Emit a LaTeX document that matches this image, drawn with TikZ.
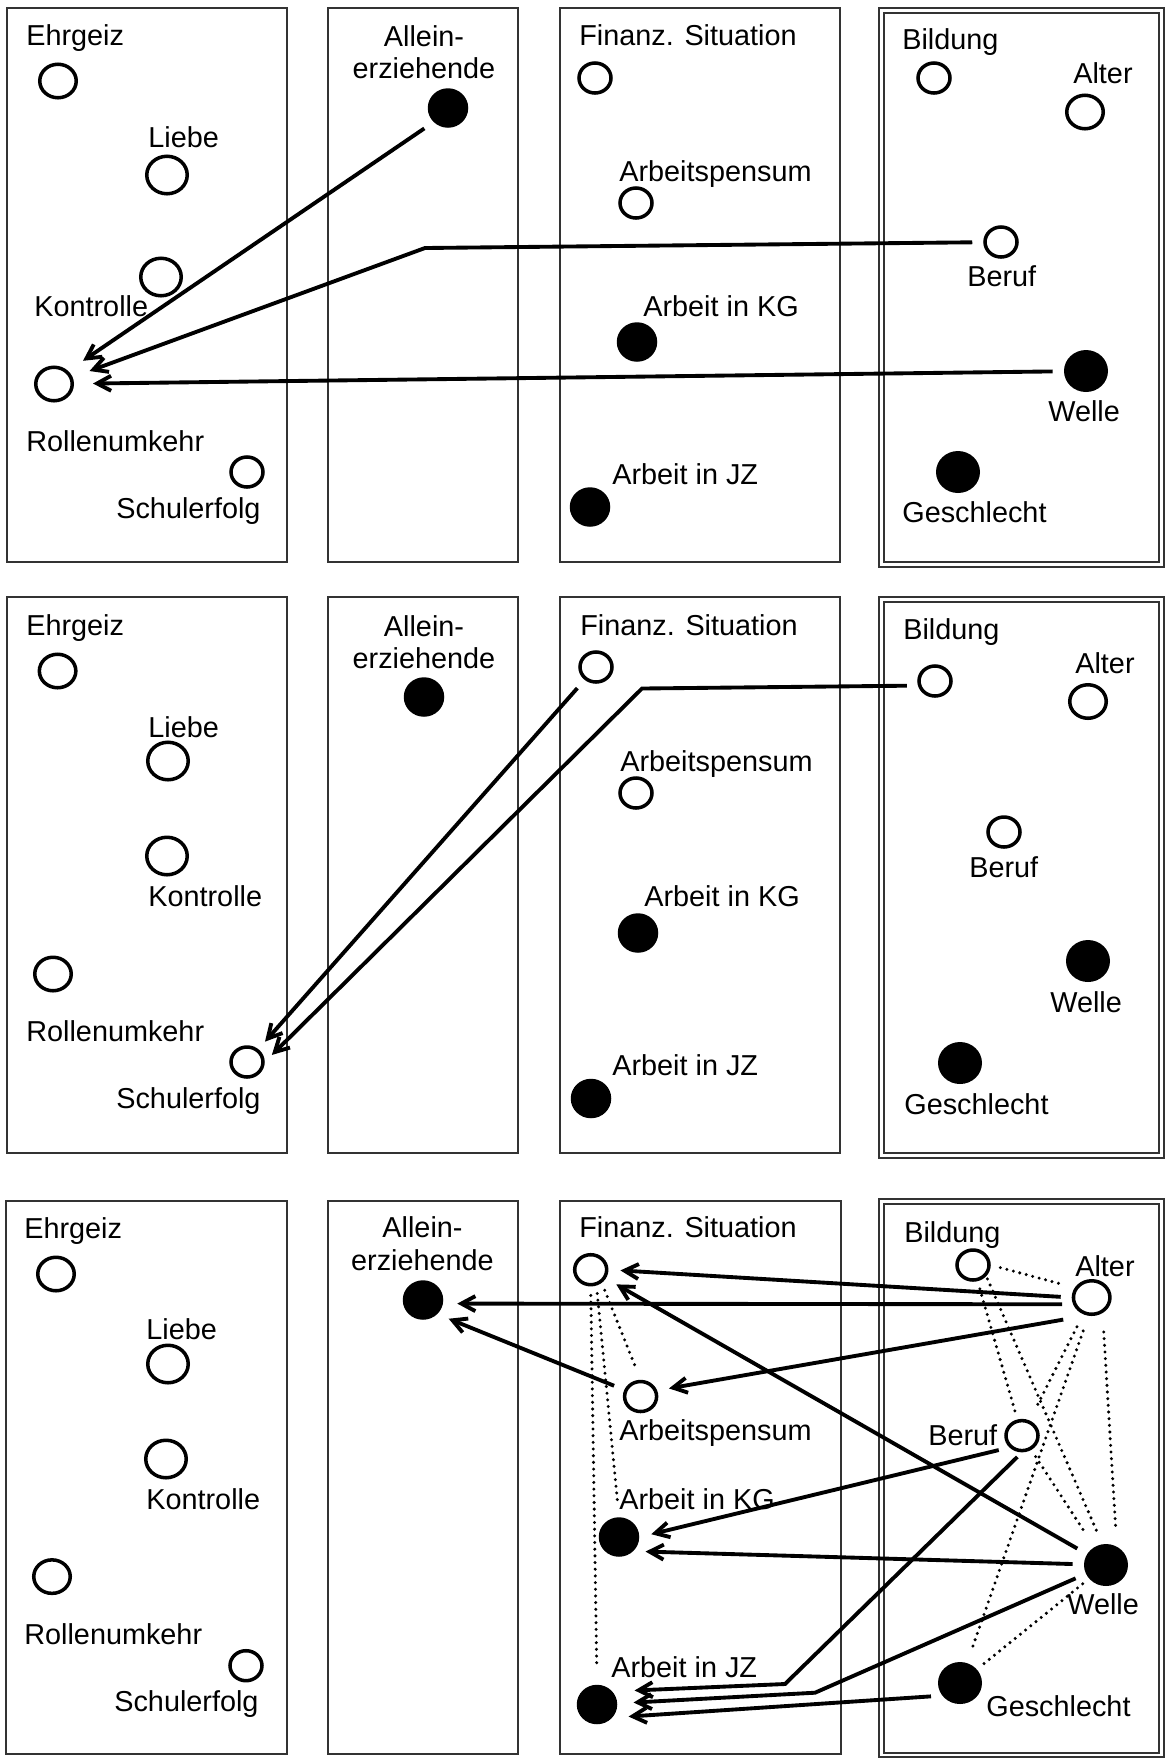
\documentclass[tikz,border=0pt]{standalone}
\usepackage{fontspec}
\setmainfont{Liberation Sans}
\usetikzlibrary{arrows.meta,shapes.geometric}
\definecolor{ink}{HTML}{000000}
\definecolor{frame}{HTML}{333333}
\tikzset{
  >={Straight Barb[length=2.8mm,width=3mm]},
  every node/.style={font=\fontsize{16.4}{18.4}\selectfont,text=ink},
  lbl/.style={anchor=base west,inner sep=0pt},
  twoline/.style={align=center,anchor=north,inner sep=0pt},
  opn/.style={ellipse,draw=ink,line width=2pt,fill=white,inner sep=0pt,minimum width=7.3mm,minimum height=6.7mm},
  opnS/.style={opn,minimum width=6.4mm,minimum height=6mm},
  opnL/.style={opn,minimum width=8.1mm,minimum height=7.5mm},
  fll/.style={ellipse,fill=ink,inner sep=0pt,minimum width=8.1mm,minimum height=7.9mm},
  fllL/.style={fll,minimum width=8.8mm,minimum height=8.4mm},
  frm/.style={draw=frame,line width=1pt},
  arrow/.style={->,line width=2.2pt,draw=ink,shorten <=2.2mm,shorten >=2.4mm},
  assoc/.style={line width=1.9pt,draw=ink,line cap=round,dash pattern=on 0pt off 3.8pt}
}
\begin{document}
\begin{tikzpicture}[x=0.2mm,y=-0.2mm]
  \useasboundingbox[fill=white] (0,0) rectangle (1166,1758);

  \draw[frm] (7,8) rectangle (287,562);
  \draw[frm] (328,8) rectangle (518,562);
  \draw[frm] (560,8) rectangle (840,562);
  \draw[frm] (879,8) rectangle (1164,567);
  \draw[frm] (884,13) rectangle (1159,562);

  \draw[frm] (7,597) rectangle (287,1153);
  \draw[frm] (328,597) rectangle (518,1153);
  \draw[frm] (560,597) rectangle (840,1153);
  \draw[frm] (879,597) rectangle (1164,1158);
  \draw[frm] (884,602) rectangle (1159,1153);

  \draw[frm] (6,1201) rectangle (287,1754);
  \draw[frm] (328,1201) rectangle (518,1754);
  \draw[frm] (560,1201) rectangle (841,1754);
  \draw[frm] (879,1199) rectangle (1164,1757);
  \draw[frm] (884,1204) rectangle (1159,1753);

  \node[opn] (ehrgeiz1) at (58,81) {};
  \node[lbl] (ehrgeiz1l) at (26,45) {Ehrgeiz};
  \node[opnL] (liebe1) at (167,175) {};
  \node[lbl] (liebe1l) at (148,147) {Liebe};
  \node[opnL] (kontrolle1) at (161,277) {};
  \node[lbl] (kontrolle1l) at (34,316) {Kontrolle};
  \node[opn] (rollen1) at (54,384) {};
  \node[lbl] (rollen1l) at (26,451) {Rollenumkehr};
  \node[opnS] (schul1) at (247,472) {};
  \node[lbl] (schul1l) at (116,518) {Schulerfolg};
  \node[twoline] (allein1l) at (424,25) {Allein-\\erziehende};
  \node[fll] (allein1) at (448,108) {};
  \node[lbl] (finanz1l) at (579,45) {Finanz. Situation};
  \node[opnS] (finanz1) at (595,78) {};
  \node[lbl] (arbeits1l) at (619,181) {Arbeitspensum};
  \node[opnS] (arbeits1) at (636,203) {};
  \node[lbl] (kg1l) at (643,316) {Arbeit in KG};
  \node[fll] (kg1) at (637,342) {};
  \node[lbl] (jz1l) at (612,484) {Arbeit in JZ};
  \node[fll] (jz1) at (590,507) {};
  \node[lbl] (bildung1l) at (902,49) {Bildung};
  \node[opnS] (bildung1) at (934,78) {};
  \node[lbl] (alter1l) at (1073,83) {Alter};
  \node[opn] (alter1) at (1085,112) {};
  \node[opnS] (beruf1) at (1001,242) {};
  \node[lbl] (beruf1l) at (967,286) {Beruf};
  \node[fllL] (welle1) at (1086,371) {};
  \node[lbl] (welle1l) at (1048,421) {Welle};
  \node[fllL] (geschl1) at (958,472) {};
  \node[lbl] (geschl1l) at (902,522) {Geschlecht};
  \coordinate (knick1) at (425,248);

  \draw[arrow,shorten >=3.6mm] (allein1.south west) -- (rollen1.north east);
  \draw[arrow,shorten >=3.6mm] (beruf1) -- (knick1) -- (rollen1.20);
  \draw[arrow,shorten >=3.8mm] (welle1) -- (rollen1);

  \node[opn] (ehrgeiz2) at (57.6,671) {};
  \node[lbl] (ehrgeiz2l) at (26,635) {Ehrgeiz};
  \node[opnL] (liebe2) at (168,761) {};
  \node[lbl] (liebe2l) at (148,737) {Liebe};
  \node[opnL] (kontrolle2) at (167,856) {};
  \node[lbl] (kontrolle2l) at (148,906) {Kontrolle};
  \node[opn] (rollen2) at (53,974) {};
  \node[lbl] (rollen2l) at (26,1041) {Rollenumkehr};
  \node[opnS] (schul2) at (247,1062) {};
  \node[lbl] (schul2l) at (116,1108.6) {Schulerfolg};
  \node[twoline] (allein2l) at (424,614.8) {Allein-\\erziehende};
  \node[fll] (allein2) at (424,697) {};
  \node[lbl] (finanz2l) at (580,635.4) {Finanz. Situation};
  \node[opnS] (finanz2) at (596,667) {};
  \node[lbl] (arbeits2l) at (620,771.4) {Arbeitspensum};
  \node[opnS] (arbeits2) at (636,793) {};
  \node[lbl] (kg2l) at (644,906) {Arbeit in KG};
  \node[fll] (kg2) at (638,933) {};
  \node[lbl] (jz2l) at (612,1075) {Arbeit in JZ};
  \node[fll] (jz2) at (591,1098.5) {};
  \node[lbl] (bildung2l) at (903,639.4) {Bildung};
  \node[opnS] (bildung2) at (935,681) {};
  \node[lbl] (alter2l) at (1075,673.6) {Alter};
  \node[opn] (alter2) at (1088,701.5) {};
  \node[opnS] (beruf2) at (1004,832) {};
  \node[lbl] (beruf2l) at (969,877) {Beruf};
  \node[fllL] (welle2) at (1088,961) {};
  \node[lbl] (welle2l) at (1050,1012) {Welle};
  \node[fllL] (geschl2) at (960,1063) {};
  \node[lbl] (geschl2l) at (904,1114) {Geschlecht};
  \coordinate (knick2) at (642,688.5);

  \draw[arrow,shorten >=2mm] (finanz2) -- (schul2);
  \draw[arrow,shorten >=2mm] (bildung2.195) -- (knick2) -- (schul2.east);

  \node[opn] (ehrgeiz3) at (56,1274) {};
  \node[lbl] (ehrgeiz3l) at (24,1238) {Ehrgeiz};
  \node[opnL] (liebe3) at (168,1364) {};
  \node[lbl] (liebe3l) at (146,1339) {Liebe};
  \node[opnL] (kontrolle3) at (166,1459) {};
  \node[lbl] (kontrolle3l) at (146,1509) {Kontrolle};
  \node[opn] (rollen3) at (52,1576.6) {};
  \node[lbl] (rollen3l) at (24,1644) {Rollenumkehr};
  \node[opnS] (schul3) at (246,1665.7) {};
  \node[lbl] (schul3l) at (114,1711) {Schulerfolg};
  \node[twoline] (allein3l) at (422.5,1216.5) {Allein-\\erziehende};
  \node[fll] (allein3) at (423,1300) {};
  \node[lbl] (finanz3l) at (579,1237) {Finanz. Situation};
  \node[opnS] (finanz3) at (590.7,1269.7) {};
  \node[lbl] (arbeits3l) at (619,1440) {Arbeitspensum};
  \node[opnS] (arbeits3) at (640.6,1396.5) {};
  \node[lbl] (kg3l) at (619,1509) {Arbeit in KG};
  \node[fll] (kg3) at (619,1537) {};
  \node[lbl] (jz3l) at (611,1677) {Arbeit in JZ};
  \node[fll] (jz3) at (597,1704.5) {};
  \node[lbl] (bildung3l) at (904,1242) {Bildung};
  \node[opnS] (bildung3) at (973,1265) {};
  \node[lbl] (alter3l) at (1075,1276) {Alter};
  \node[opn] (alter3) at (1091.7,1297.5) {};
  \node[opnS] (beruf3) at (1022,1435.6) {};
  \node[lbl] (beruf3l) at (928,1445) {Beruf};
  \node[fllL] (welle3) at (1106,1565) {};
  \node[lbl] (welle3l) at (1067,1614) {Welle};
  \node[fllL] (geschl3) at (960,1683) {};
  \node[lbl] (geschl3l) at (986,1716) {Geschlecht};
  \coordinate (knick3a) at (785,1684);
  \coordinate (knick3b) at (815,1692.7);

  \draw[assoc,shorten <=1.8mm,shorten >=3.8mm] (finanz3.south) -- (jz3.north);
  \draw[assoc,shorten <=1.6mm,shorten >=3.4mm] (finanz3.-70) -- (kg3.north);
  \draw[assoc,shorten <=1.6mm,shorten >=2.4mm] (finanz3.-50) -- (arbeits3.north);
  \draw[assoc,shorten <=2mm,shorten >=2.4mm] (bildung3.east) -- (alter3.150);
  \draw[assoc,shorten <=1.6mm,shorten >=1.6mm] (bildung3) -- (beruf3);
  \draw[assoc,shorten <=0.6mm,shorten >=3mm] (bildung3.-40) -- (welle3.100);
  \draw[assoc,shorten <=2.8mm,shorten >=2.6mm] (alter3) -- (beruf3);
  \draw[assoc,shorten <=3.2mm,shorten >=3mm] (alter3.-100) -- (geschl3);
  \draw[assoc,shorten <=3.8mm,shorten >=4mm] (alter3.-55) -- (welle3.60);
  \draw[assoc,shorten <=1.6mm,shorten >=4mm] (beruf3) -- (welle3);
  \draw[assoc,shorten <=1.6mm,shorten >=1.6mm] (welle3) -- (geschl3);

  \draw[arrow] (alter3.west) -- (finanz3.east);
  \draw[arrow,shorten >=2.8mm] (alter3.200) -- (allein3.-10);
  \draw[arrow,shorten <=4.8mm] (alter3.255) -- (arbeits3.20);
  \draw[arrow] (arbeits3) -- (allein3.south east);
  \draw[arrow] (welle3) -- (finanz3);
  \draw[arrow] (beruf3.south west) -- (kg3.east);
  \draw[arrow] (welle3) -- (kg3.south east);
  \draw[arrow,shorten <=1.3mm,shorten >=4.4mm] (beruf3.south) -- (knick3a) -- (jz3.40);
  \draw[arrow,shorten >=3.2mm] (welle3) -- (knick3b) -- (jz3);
  \draw[arrow,shorten >=3.2mm] (geschl3.215) -- (jz3.-40);
\end{tikzpicture}
\end{document}
